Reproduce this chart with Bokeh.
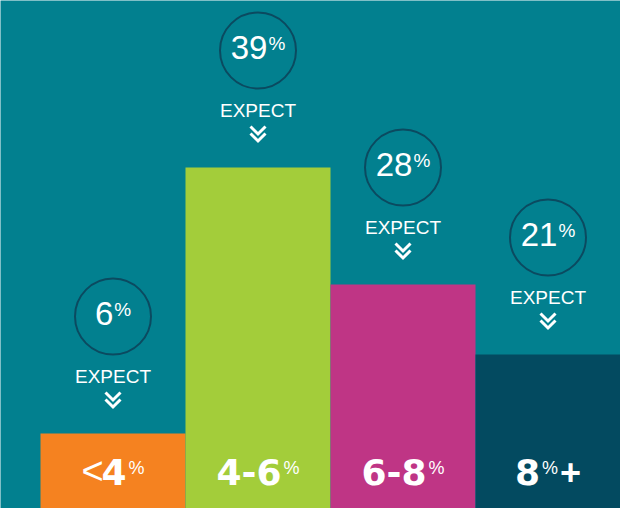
from bokeh.plotting import figure
from bokeh.core.properties import value
from bokeh.embed import file_html
from bokeh.resources import INLINE

# ---- data ----
ranges = ["<4%", "4-6%", "6-8%", "8%+"]
expect_pct = [6, 39, 28, 21]
bar_heights = [75, 341, 224, 154]          # bar heights as drawn (relative units)
bar_colors = ["#f58220", "#a3cd3a", "#bf3585", "#034a60"]

BG = "#02808f"
RING = "#0b4a60"
W, H = 620, 508
PX_PER_X = 145.0
LEFT_PAD = 40.0
BASE_FIX = 0.43   # baseline correction (fraction of font size)

idx = list(range(len(ranges)))

p = figure(width=W, height=H, output_backend="svg", toolbar_location=None, tools="",
           x_range=(-0.5 - LEFT_PAD / PX_PER_X, len(ranges) - 0.5), y_range=(0, H),
           x_axis_location=None, y_axis_location=None, min_border=0)
p.grid.visible = False
p.outline_line_color = None
p.background_fill_color = BG
p.border_fill_color = BG

# bars
p.vbar(x=idx, top=bar_heights, bottom=0, width=1.0, fill_color=bar_colors, line_color=None)

# annotation positions relative to bar tops
circle_y = [h + 117 for h in bar_heights]
p.circle(x=idx, y=circle_y, radius=38, radius_units="screen", fill_color=None,
         line_color=RING, line_width=2)

p.text(x=idx, y=[c - 68 + BASE_FIX * 19 for c in circle_y], text=["EXPECT"] * len(idx),
       text_align="center", text_baseline="alphabetic", text_font=value("Liberation Sans"),
       text_font_size="19px", text_color="white")

# chevrons
xs, ys = [], []
d = 7.5 / PX_PER_X
for i, c in zip(idx, circle_y):
    top = c - 76
    for k in range(2):
        t = top - 7 * k
        xs.append([i - d, i, i + d])
        ys.append([t, t - 7.5, t])
p.multi_line(xs=xs, ys=ys, line_color="white", line_width=3, line_join="miter")

# composite texts
STYLES = {
    # name: (font, style, size, em-width table, gap after)
    "bold": ("DejaVu Sans", "bold", 36, {**{str(n): 0.696 for n in range(10)}, "-": 0.415}, 2),
    "plus": ("Liberation Sans", "bold", 36, {"+": 0.584}, 2),
    "lt": ("Liberation Sans", "normal", 38, {"<": 0.584}, -2),
    "sup": ("Liberation Sans", "normal", 18, {"%": 0.889}, 2),
    "num": ("Liberation Sans", "normal", 33, {str(n): 0.556 for n in range(10)}, 1),
    "csup": ("Liberation Sans", "normal", 19, {"%": 0.889}, 0),
}


def segments(label):
    out = []
    for ch in label:
        st = "sup" if ch == "%" else ("lt" if ch == "<" else ("plus" if ch == "+" else "bold"))
        if out and out[-1][1] == st:
            out[-1][0] += ch
        else:
            out.append([ch, st])
    return out


def draw_composite(xc, ybase, segs, raises):
    widths = [sum(STYLES[st][3][c] for c in s) * STYLES[st][2] for s, st in segs]
    gaps = [STYLES[st][4] for _, st in segs[:-1]] + [0]
    total = sum(widths) + sum(gaps)
    off = -total / 2
    for (s, st), w, g in zip(segs, widths, gaps):
        font, style, size, _, _ = STYLES[st]
        y = ybase + raises.get(st, 0) + BASE_FIX * size
        p.text(x=[xc], y=[y], text=[s], x_offset=off, text_align="left", text_baseline="alphabetic",
               text_font=value(font), text_font_size="%dpx" % size,
               text_font_style=style, text_color="white")
        off += w + g


for i, lab in zip(idx, ranges):
    draw_composite(i, 21, segments(lab), {"sup": 12})

for i, v, c in zip(idx, expect_pct, circle_y):
    draw_composite(i, c - 11, [[str(v), "num"], ["%", "csup"]], {"csup": 10})

open("out.html", "w").write(file_html(p, INLINE))
